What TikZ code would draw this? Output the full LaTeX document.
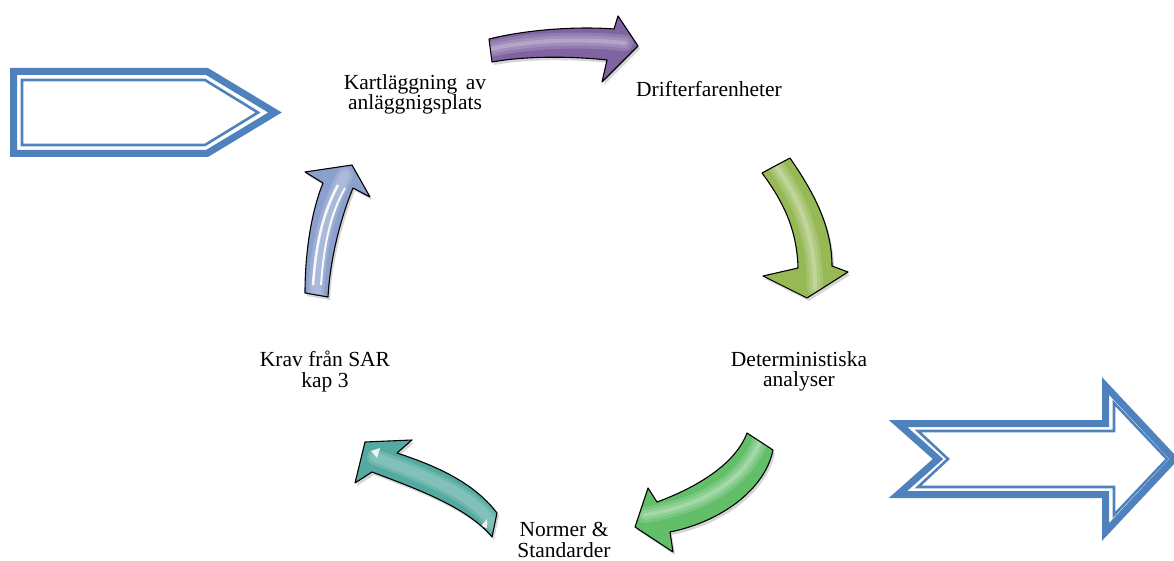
\documentclass[tikz,border=0pt]{standalone}
\usepackage{fontspec}
\setmainfont{Liberation Serif}
\definecolor{officeblue}{RGB}{79,129,189}
\definecolor{cpurple}{RGB}{128,100,162}
\definecolor{cgreenA}{RGB}{150,185,85}
\definecolor{cgreenB}{RGB}{98,190,104}
\definecolor{cteal}{RGB}{84,170,160}
\definecolor{cblue}{RGB}{140,160,205}
\tikzset{
  lbl/.style={font=\fontsize{21.5}{20.5}\selectfont, align=center, inner sep=0pt},
  outerline/.style={draw=officeblue, line width=7pt, line join=miter},
  innerline/.style={draw=officeblue, line width=2.6pt, line join=miter},
  cycarrow/.style={draw=black, line width=1.1pt, line join=round,
    preaction={fill=black, opacity=0.16, transform canvas={shift={(2,3)}}}},
  glossA/.style={white, opacity=0.15, line width=16pt, line cap=round},
  glossB/.style={white, opacity=0.15, line width=10pt, line cap=round},
  glossC/.style={white, opacity=0.2, line width=4pt, line cap=round},
}
\begin{document}
\begin{tikzpicture}[x=1pt,y=-1pt]
\useasboundingbox (0,0) rectangle (1174,561);

% left blue pentagon arrow
\draw[outerline] (13.5,71.5) -- (207,71.5) -- (275,112.5) -- (207,153.5) -- (13.5,153.5) -- cycle;
\draw[innerline] (22,80) -- (205,80) -- (258,112.5) -- (205,145) -- (22,145) -- cycle;

% right blue notched arrow
\draw[outerline] (898,423.5) -- (1105.5,423.5) -- (1105.5,386) -- (1174,459) -- (1105.5,532) -- (1105.5,494.5) -- (898,494.5) -- (938,459) -- cycle;
\draw[innerline] (918,431) -- (1114,431) -- (1114,403) -- (1167,459) -- (1114,515) -- (1114,487) -- (918,487) -- (948,459) -- cycle;

% purple arrow (top)
\path[cycarrow, fill=cpurple, path picture={
    \foreach \s in {glossA,glossB,glossC}
      \draw[\s] (491,49) .. controls (525,41) and (575,38) .. (625,43);}]
  (489,39) .. controls (525,30) and (575,26) .. (614,29) -- (618,16) -- (638,46)
  -- (602,82) -- (607,60) .. controls (570,56) and (525,56) .. (492,62) -- cycle;

% light green arrow (right, top)
\path[cycarrow, fill=cgreenA, path picture={
    \foreach \s in {glossA,glossB,glossC}
      \draw[\s] (776,166) .. controls (800,200) and (815,235) .. (815,288);}]
  (762,173) -- (790,158) .. controls (812,190) and (832,225) .. (832,266)
  -- (848,272) -- (807,298) -- (763,276) -- (798,268)
  .. controls (797,228) and (782,200) .. (762,173) -- cycle;

% green arrow (right, bottom)
\path[cycarrow, fill=cgreenB, path picture={
    \foreach \s in {glossA,glossB,glossC}
      \draw[\s] (760,441) .. controls (745,480) and (705,505) .. (645,515);}]
  (747,433) -- (773,450) .. controls (765,490) and (720,522) .. (670,532)
  -- (673,552) -- (635,527) -- (648,488) -- (657,502)
  .. controls (695,488) and (735,465) .. (747,433) -- cycle;

% teal arrow (left, bottom)
\path[cycarrow, fill=cteal, path picture={
    \foreach \s in {glossA,glossB}
      \draw[\s] (494,525) .. controls (472,493) and (425,476) .. (375,457);
    \fill[white, opacity=0.85] (371,451) -- (380,448) -- (377,458) -- cycle;
    \fill[white, opacity=0.85] (487,528) -- (487,519) -- (481,526) -- cycle;}]
  (365,442) -- (412,440) -- (397,453) .. controls (430,464) and (472,480) .. (497,513)
  -- (492,537) .. controls (468,508) and (420,490) .. (372,472) -- (355,483) -- cycle;

% blue-grey arrow (left, top)
\path[cycarrow, fill=cblue, path picture={
    \foreach \s in {glossA,glossB}
      \draw[\s] (316,295) .. controls (318,250) and (325,215) .. (345,175);
    \draw[white, line width=2.5pt, opacity=0.9] (313,285) .. controls (316,245) and (322,215) .. (338,185);
    \draw[white, line width=2pt, opacity=0.9] (321,285) .. controls (324,245) and (330,215) .. (345,188);}]
  (352,165) -- (370,197) -- (353,188) .. controls (340,220) and (330,260) .. (328,297)
  -- (305,293) .. controls (305,250) and (312,210) .. (323,183) -- (305,172) -- cycle;

% labels
\node[lbl] (kart) at (415,94.5) {Kartläggning\hspace{0.4em}av\\anläggnigsplats};
\node[lbl, anchor=base] (drift) at (709,96.5) {Drifterfarenheter};
\node[lbl] (det) at (799,371.5) {Deterministiska\\analyser};
\node[lbl] (norm) at (564,540) {Normer \&\\Standarder};
\node[lbl] (krav) at (325,371.5) {Krav från SAR\\kap 3};
\end{tikzpicture}
\end{document}
